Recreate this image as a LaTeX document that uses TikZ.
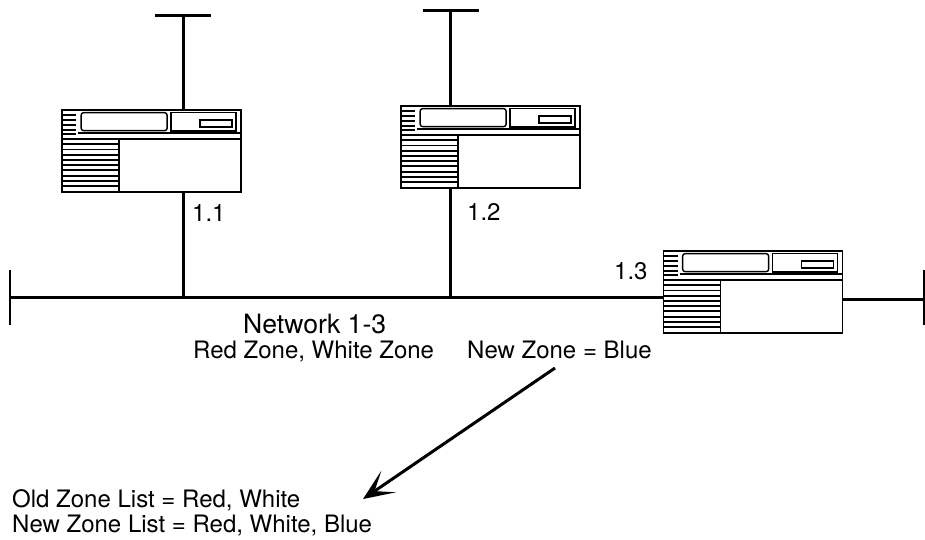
\documentclass[tikz,border=0pt]{standalone}
\usepackage{fontspec}
\setmainfont{TeX Gyre Heros}
\usetikzlibrary{arrows.meta}
\tikzset{
  routerbox/.style={draw,fill=white,line width=1.7pt,minimum width=179pt,minimum height=82pt,inner sep=0pt},
  wire/.style={line width=3pt},
  thin wire/.style={line width=1.4pt},
  label/.style={inner sep=0pt,anchor=base west,font=\fontsize{24}{24}\selectfont},
  router/.pic={
    % origin is the top left corner of the box
    \foreach \y in {6,11,16,21,25}
      \draw[thin wire] (0,\y) -- (15,\y);
    \foreach \y in {35,40.5,46,51,56,61,67,72,77}
      \draw[thin wire] (0,\y) -- (58,\y);
    \draw[thin wire] (17,24) -- (179,24);
    \draw[thin wire] (0,30) -- (179,30);
    \draw[thin wire] (58,30) -- (58,82);
    \draw[thin wire,rounded corners=2.5pt] (20,3.5) rectangle (106,21.5);
    \draw[thin wire] (110,3.5) rectangle (175,22);
    \draw[thin wire] (139,11) rectangle (171,18);
  }
}
\begin{document}
\begin{tikzpicture}[x=1pt,y=-1pt]
  \useasboundingbox (0,0) rectangle (925,539);
  \node[routerbox] (r1) at (151.5,151) {};
  \node[routerbox] (r2) at (490.5,147) {};
  \node[routerbox] (r3) at (753,292) {};
  \pic at (r1.north west) {router};
  \pic at (r2.north west) {router};
  \pic at (r3.north west) {router};
  % stubs above the routers
  \coordinate (top1) at (183,15);
  \coordinate (top2) at (450,10);
  \coordinate (top1a) at (155,15);
  \coordinate (top1b) at (211,15);
  \coordinate (top2a) at (423,10);
  \coordinate (top2b) at (479,10);
  \draw[wire] (top1a) -- (top1b);
  \draw[wire] (top2a) -- (top2b);
  \draw[wire] (top1) -- (top1 |- r1.north);
  \draw[wire] (top2) -- (top2 |- r2.north);
  % the network
  \coordinate (busl) at (10,297);
  \coordinate (busr) at (924,299);
  \coordinate (tap1) at (183,297);
  \coordinate (tap2) at (450,297);
  \draw[wire] (busl) -- (busl -| r3.west);
  \draw[wire] (busr -| r3.east) -- (busr);
  \draw[wire] (tap1 |- r1.south) -- (tap1);
  \draw[wire] (tap2 |- r2.south) -- (tap2);
  \draw[line width=2pt] (10,270) -- (10,325);
  \draw[line width=2pt] (924,270) -- (924,325);
  % labels
  \node[label] (l1) at (192,221) {1.1};
  \node[label] (l2) at (467,220) {1.2};
  \node[label] (l3) at (614,279) {1.3};
  \node[label,font=\fontsize{26.6}{27}\selectfont] (net) at (243,333) {Network 1-3};
  \node[label] (red) at (193,358) {Red Zone, White Zone};
  \node[label] (new) at (467,358) {New Zone = Blue};
  \node[label] (old) at (12,507) {Old Zone List = Red, White};
  \node[label] (lst) at (12,532) {New Zone List = Red, White, Blue};
  % arrow to the zone lists
  \coordinate (from) at (555,368);
  \coordinate (to) at (363,499);
  \draw[wire,-{Stealth[length=31pt,width=26pt,inset=17pt]}] (from) -- (to);
\end{tikzpicture}
\end{document}
